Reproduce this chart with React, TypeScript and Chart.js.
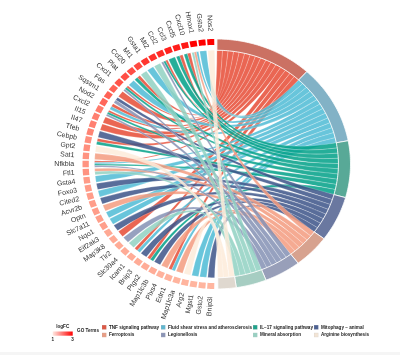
import React, { useEffect, useRef } from "react";
import { Chart, registerables } from "chart.js";
Chart.register(...registerables);

const genes = ["Nos2","Gsta2","Hmox1","Cxcl10","Cxcl5","Ccl3","Ccl2","Mt2","Gsta1","Mt1","Ccl20","Plat","Cxcl1","Fas","Sqstm1","Nod2","Cxcl2","Il15","Il47","Tfeb","Cebpb","Gpt2","Sat1","Nfkbia","Ftl1","Gsta4","Foxo3","Cited2","Acvr2b","Optn","Slc7a11","Nqo1","Eif2ak3","Map3k8","Tlr2","Slc39a4","Icam1","Bnip3","Ptgs2","Map1lc3b","Plxs4","Edn1","Map1lc3a","Arg2","Mgst1","Gsto2","Bnip3l"];
const logFC = [3,3,3,2.75,2.7,2.65,2.55,2.5,2.45,2.25,2.2,2.2,2.15,2,2,1.95,1.75,1.7,1.7,1.65,1.55,1.55,1.5,1.5,1.5,1.42,1.42,1.4,1.4,1.4,1.38,1.38,1.28,1.28,1.26,1.26,1.25,1.25,1.24,1.24,1.18,1.18,1.16,1.16,1.15,1.15,1.14];
const terms = ["TNF signaling pathway","Fluid shear stress and atherosclerosis","IL\u221217 signaling pathway","Mitophagy \u2212 animal","Ferroptosis","Legionellosis","Mineral absorption","Arginine biosynthesis"];
const ribbonColors = ["#E64B35","#4DBBD5","#00A087","#3C5488","#F39B7F","#8491B4","#91D1C2","#FDEBD9"];
const ringColors = ["#CB7163","#82B2C6","#58A997","#6A78A0","#D7A28F","#989FB9","#A6CDC2","#DFD8CF"];
// term indices each gene links to, one row per gene, same order as `genes`
const geneTerms = [[7],[1],[1,4,6],[0,2],[0,2],[2],[0,2,5],[6],[1],[6],[0,2],[1],[0,2,5],[0],[3,5],[0,1],[0,2,5],[0],[0],[3],[0,2],[7],[4],[0,1,2,5],[4,6],[1],[3],[1],[3],[4],[1],[1],[3],[0],[5],[6],[0,1],[3],[0,2],[3],[4],[0,1],[4],[7],[1],[1],[3]];
const legendRows = [[0,1,2,3],[4,5,6,7]];
const legendSwatchX = [102,161,253,314];

const GENE_START = 0.6, GENE_SPAN = 178.8, TERM_START = 0.2, TERM_SPAN = 179.2;
const R_OUT = 1, R_GENE_IN = 0.953, R_IN = 0.91, R_LABEL = 1.062;

function lerpColor(v: number) {
  const t = Math.min(1, Math.max(0, (v - 1) / 2));
  const a = [255, 196, 172], b = [255, 0, 0];
  return `rgb(${a.map((c, i) => Math.round(c + (b[i] - c) * t)).join(",")})`;
}

const chordPlugin = {
  id: "chord",
  beforeDatasetsDraw(chart: any) {
    const { ctx, scales } = chart;
    const sx = scales.x, sy = scales.y;
    const rad = (d: number) => (d * Math.PI) / 180;
    const pt = (deg: number, r: number): [number, number] => [
      sx.getPixelForValue(r * Math.sin(rad(deg))),
      sy.getPixelForValue(r * Math.cos(rad(deg))),
    ];
    const arcTo = (a: number, b: number, r: number) => {
      const n = Math.max(2, Math.ceil(Math.abs(b - a) / 1));
      for (let i = 0; i <= n; i++) {
        const p = pt(a + ((b - a) * i) / n, r);
        ctx.lineTo(p[0], p[1]);
      }
    };
    const c = pt(0, 0);
    const counts = terms.map((_, t) => geneTerms.filter((g) => g.includes(t)).length);
    const total = counts.reduce((a, b) => a + b, 0);
    const unit = TERM_SPAN / total;
    const slot = GENE_SPAN / genes.length;

    ctx.save();
    ctx.fillStyle = "#fff";
    ctx.fillRect(0, 0, chart.width, chart.height);

    // term start angles (clockwise from the top)
    const termStart: number[] = [];
    let acc = TERM_START;
    counts.forEach((n, t) => { termStart[t] = acc; acc += n * unit; });

    // ribbons, last term on top
    terms.forEach((_, t) => {
      let used = 0;
      genes.forEach((_, g) => {
        const list = geneTerms[g];
        const pos = list.indexOf(t);
        if (pos < 0) return;
        const gA = 360 - GENE_START - slot * (g + 0.08 + (0.84 * pos) / list.length);
        const gB = 360 - GENE_START - slot * (g + 0.08 + (0.84 * (pos + 1)) / list.length);
        const tA = termStart[t] + used * unit;
        const tB = tA + unit;
        used++;
        ctx.beginPath();
        const s = pt(gA, R_IN);
        ctx.moveTo(s[0], s[1]);
        arcTo(gA, gB, R_IN);
        const e1 = pt(tB, R_IN);
        ctx.quadraticCurveTo(c[0], c[1], e1[0], e1[1]);
        arcTo(tB, tA, R_IN);
        ctx.quadraticCurveTo(c[0], c[1], s[0], s[1]);
        ctx.closePath();
        ctx.globalAlpha = 0.85;
        ctx.fillStyle = ribbonColors[t];
        ctx.fill();
        ctx.globalAlpha = 0.6;
        ctx.strokeStyle = "#fff";
        ctx.lineWidth = 0.35;
        ctx.stroke();
      });
    });
    ctx.globalAlpha = 1;

    // term ring
    terms.forEach((_, t) => {
      const a = termStart[t], b = a + counts[t] * unit;
      ctx.beginPath();
      const s = pt(a, R_OUT);
      ctx.moveTo(s[0], s[1]);
      arcTo(a, b, R_OUT);
      arcTo(b, a, R_IN);
      ctx.closePath();
      ctx.fillStyle = ringColors[t];
      ctx.fill();
      ctx.strokeStyle = "#fff";
      ctx.lineWidth = 0.8;
      ctx.stroke();
    });

    // gene ring and labels
    genes.forEach((name, g) => {
      const a = 360 - GENE_START - slot * (g + 0.1);
      const b = 360 - GENE_START - slot * (g + 0.9);
      ctx.beginPath();
      const s = pt(a, R_OUT);
      ctx.moveTo(s[0], s[1]);
      arcTo(a, b, R_OUT);
      arcTo(b, a, R_GENE_IN);
      ctx.closePath();
      ctx.fillStyle = lerpColor(logFC[g]);
      ctx.fill();

      const m = (a + b) / 2;
      const p = pt(m, R_LABEL);
      const ang = Math.atan2(p[1] - c[1], p[0] - c[0]);
      ctx.save();
      ctx.translate(p[0], p[1]);
      ctx.rotate(ang + Math.PI);
      ctx.font = "7px 'Liberation Sans'";
      ctx.fillStyle = "#333";
      ctx.textAlign = "right";
      ctx.textBaseline = "middle";
      ctx.fillText(name, 0, 0);
      ctx.restore();
    });

    // legend
    ctx.textBaseline = "middle";
    ctx.textAlign = "center";
    ctx.fillStyle = "#222";
    ctx.font = "bold 4.6px 'Liberation Sans'";
    ctx.fillText("logFC", 62.7, 327);
    const grad = ctx.createLinearGradient(52.7, 0, 72.7, 0);
    grad.addColorStop(0, "#ffe9e2");
    grad.addColorStop(1, "#ff0000");
    ctx.fillStyle = grad;
    ctx.fillRect(52.7, 331.5, 20, 4.2);
    ctx.fillStyle = "#222";
    ctx.fillText("1", 52.7, 339.5);
    ctx.fillText("3", 72.5, 339.5);
    ctx.fillText("GO Terms", 88, 331);
    ctx.textAlign = "left";
    legendRows.forEach((row, r) => {
      const y = 327.3 + r * 7.7;
      row.forEach((t, i) => {
        const x = legendSwatchX[i];
        ctx.fillStyle = ringColors[t];
        ctx.fillRect(x, y - 2.2, 4.4, 4.4);
        ctx.fillStyle = ribbonColors[t];
        ctx.globalAlpha = 0.65;
        ctx.fillRect(x + 0.5, y - 1.7, 3.4, 3.4);
        ctx.globalAlpha = 1;
        ctx.fillStyle = "#222";
        ctx.fillText(terms[t], x + 7, y);
      });
    });
    ctx.restore();
  },
};

export default function App() {
  const ref = useRef<HTMLCanvasElement>(null);
  useEffect(() => {
    document.body.style.margin = "0";
    const chart = new Chart(ref.current as HTMLCanvasElement, {
      type: "scatter",
      data: {
        datasets: terms.map((label, t) => ({
          label,
          backgroundColor: ribbonColors[t],
          pointRadius: 0,
          data: geneTerms.flatMap((list, g) =>
            list.includes(t) ? [{ x: 0, y: 0, gene: genes[g] }] : []
          ),
        })) as any,
      },
      options: {
        animation: false,
        responsive: false,
        layout: { padding: 0 },
        events: [],
        plugins: { legend: { display: false }, tooltip: { enabled: false } },
        scales: {
          x: { type: "linear", display: false, min: -216.5 / 134, max: 183.5 / 134 },
          y: { type: "linear", display: false, min: -191 / 125, max: 164 / 125 },
        },
      },
      plugins: [chordPlugin],
    });
    return () => chart.destroy();
  }, []);
  return (
    <div style={{ position: "fixed", left: 0, top: 0, width: 400, height: 355, background: "#fff", overflow: "hidden" }}>
      <canvas ref={ref} width={400} height={355} style={{ display: "block", filter: "blur(0.5px)" }} />
      <div style={{ position: "absolute", left: 0, top: 352, width: 400, height: 3, background: "#f5f5f5" }} />
    </div>
  );
}
